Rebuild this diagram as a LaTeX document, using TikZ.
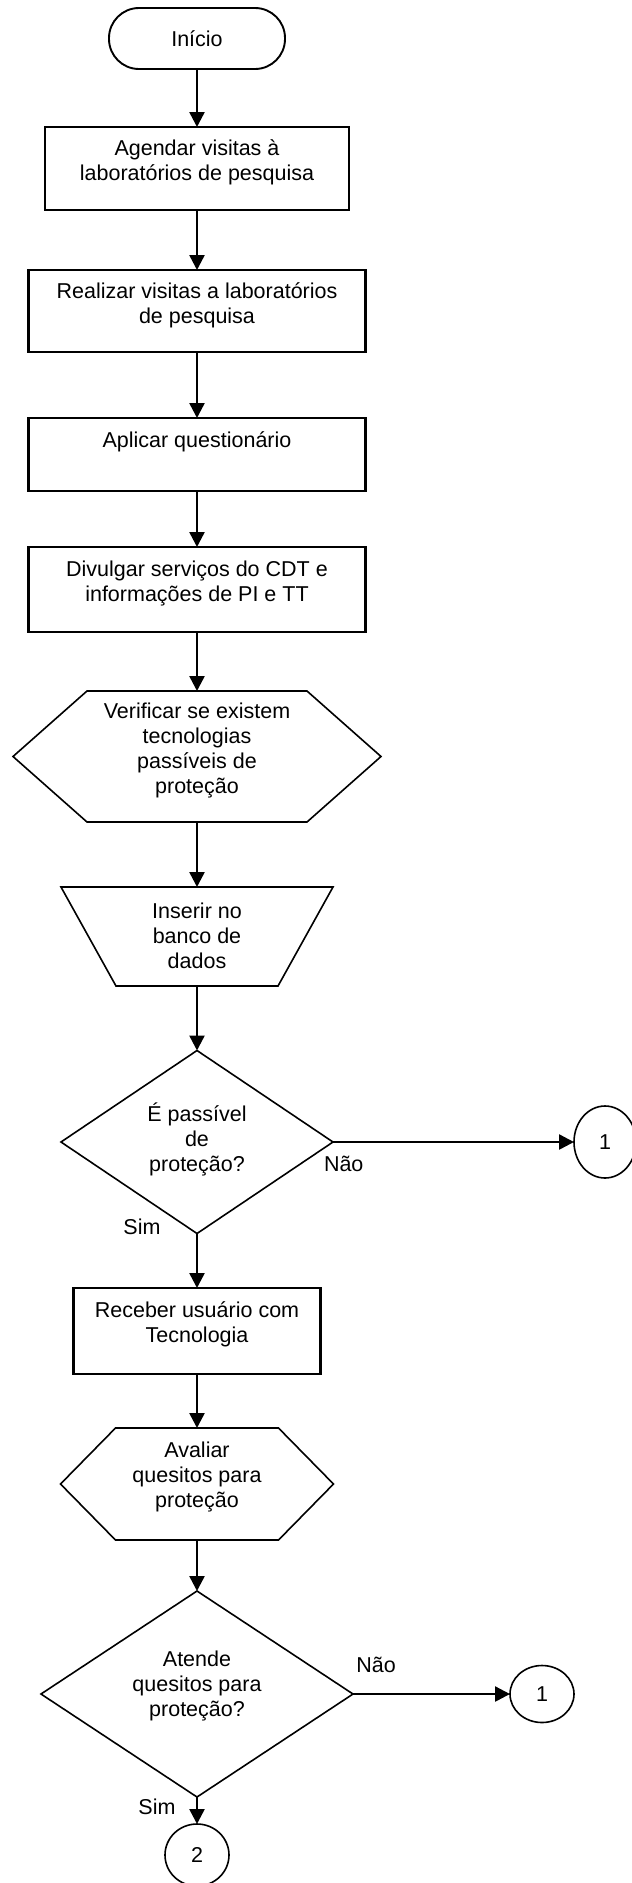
\documentclass[tikz,border=0pt]{standalone}
\usepackage{fontspec}
\setmainfont{Liberation Sans}
\usetikzlibrary{arrows.meta,shapes.geometric}
\newcommand{\chartfont}{\fontsize{21.5pt}{25pt}\selectfont}

\begin{document}
\begin{tikzpicture}[x=1pt,y=-1pt,
  every node/.style={inner sep=0pt, outer sep=0pt, font=\chartfont, align=center},
  terminal/.style={draw, line width=1.9pt, rounded corners=30pt},
  procbox/.style={draw, line width=2.2pt},
  holder/.style={rectangle},
  shapeline/.style={draw, line width=1.6pt, line join=miter},
  decision/.style={diamond, draw, line width=1.6pt},
  connector/.style={ellipse, draw, line width=1.6pt},
  branchtxt/.style={},
  flow/.style={line width=2.5pt, -{Triangle[width=15pt,length=15pt]}}]

\useasboundingbox (0,0) rectangle (632,1883);

% start
\node[terminal, minimum width=176, minimum height=61] (inicio) at (197,38.5) {Início};

% process boxes
\node[procbox, minimum width=304, minimum height=83] (agendar) at (197,168.5) {};
\node (agendar-t) at (197,162.5) {Agendar visitas à\\laboratórios de pesquisa};

\node[procbox, minimum width=337, minimum height=82] (realizar) at (197,311) {};
\node (realizar-t) at (197,305.5) {Realizar visitas a laboratórios\\de pesquisa};

\node[procbox, minimum width=337, minimum height=73] (aplicar) at (197,454.5) {};
\node (aplicar-t) at (197,442) {Aplicar questionário};

\node[procbox, minimum width=337, minimum height=85] (divulgar) at (197,589.5) {};
\node (divulgar-t) at (197,583) {Divulgar serviços do CDT e\\informações de PI e TT};

% preparation (hexagon)
\node[holder, minimum width=368, minimum height=131] (verificar) at (197,756.5) {};
\draw[shapeline] (verificar.west) -- ([xshift=74pt]verificar.north west)
  -- ([xshift=-74pt]verificar.north east) -- (verificar.east)
  -- ([xshift=-74pt]verificar.south east) -- ([xshift=74pt]verificar.south west) -- cycle;
\node (verificar-t) at (197,750.5) {Verificar se existem\\tecnologias\\passíveis de\\proteção};

% manual operation (trapezoid)
\node[holder, minimum width=272, minimum height=99] (inserir) at (197,936.5) {};
\draw[shapeline] (inserir.north west) -- (inserir.north east)
  -- ([xshift=-55pt]inserir.south east) -- ([xshift=55pt]inserir.south west) -- cycle;
\node (inserir-t) at (197,935.5) {Inserir no\\banco de\\dados};

% first decision
\node[decision, minimum width=272, minimum height=183] (passivel) at (197,1142) {};
\node (passivel-t) at (197,1139) {É passível\\de\\proteção?};
\node[branchtxt, anchor=west] (nao1) at (324,1164) {Não};
\node[branchtxt] (sim1) at (142,1227) {Sim};
\node[connector, minimum width=62, minimum height=72] (c1a) at (605,1142) {1};

\node[procbox, minimum width=247, minimum height=86] (receber) at (197,1331) {};
\node (receber-t) at (197,1324.5) {Receber usuário com\\Tecnologia};

% preparation (hexagon)
\node[holder, minimum width=273, minimum height=112] (avaliar) at (197,1484) {};
\draw[shapeline] (avaliar.west) -- ([xshift=55pt]avaliar.north west)
  -- ([xshift=-55pt]avaliar.north east) -- (avaliar.east)
  -- ([xshift=-55pt]avaliar.south east) -- ([xshift=55pt]avaliar.south west) -- cycle;
\node (avaliar-t) at (197,1476.5) {Avaliar\\quesitos para\\proteção};

% second decision
\node[decision, minimum width=312, minimum height=206] (atende) at (197,1694) {};
\node (atende-t) at (197,1686) {Atende\\quesitos para\\proteção?};
\node[branchtxt] (nao2) at (376,1665) {Não};
\node[branchtxt] (sim2) at (157,1807) {Sim};
\node[connector, minimum width=64, minimum height=57] (c1b) at (542,1694) {1};
\node[connector, minimum width=64, minimum height=62] (c2) at (197,1855) {2};

% flow
\draw[flow] (inicio) -- (agendar);
\draw[flow] (agendar) -- (realizar);
\draw[flow] (realizar) -- (aplicar);
\draw[flow] (aplicar) -- (divulgar);
\draw[flow] (divulgar) -- (verificar);
\draw[flow] (verificar) -- (inserir);
\draw[flow] (inserir) -- (passivel);
\draw[flow] (passivel) -- (c1a);
\draw[flow] (passivel) -- (receber);
\draw[flow] (receber) -- (avaliar);
\draw[flow] (avaliar) -- (atende);
\draw[flow] (atende) -- (c1b);
\draw[flow] (atende) -- (c2);
\end{tikzpicture}
\end{document}
